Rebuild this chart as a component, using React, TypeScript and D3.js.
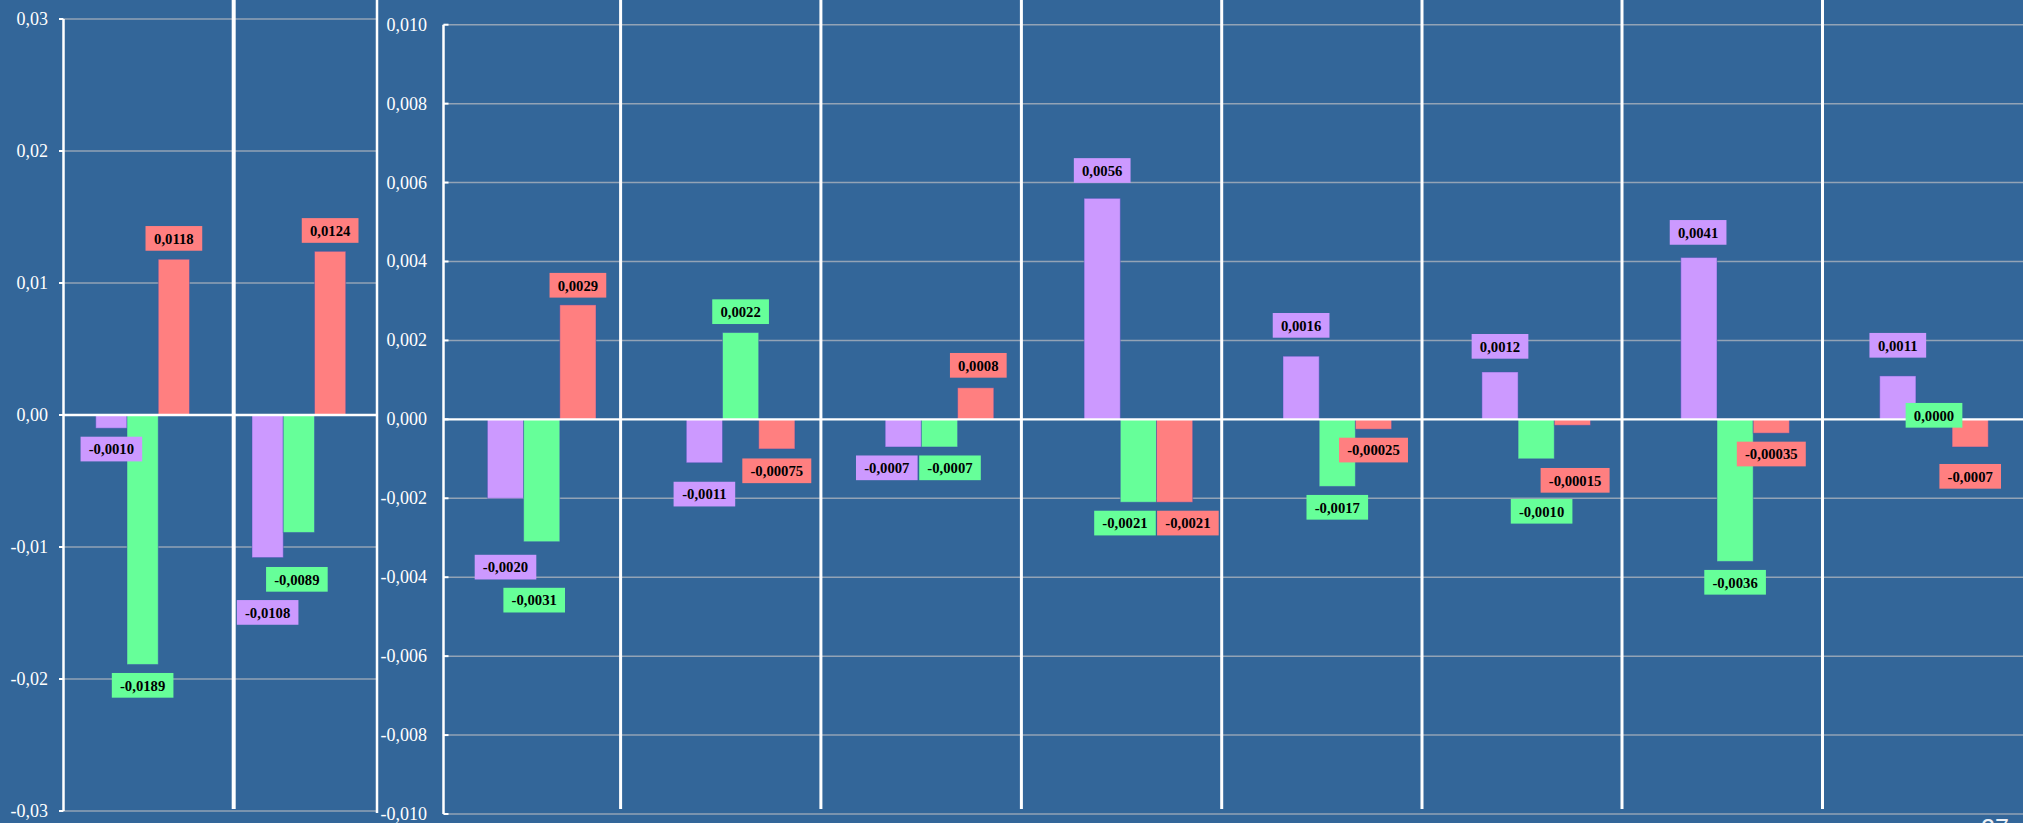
import React from "react";
import * as d3 from "d3";

// ---------- data ----------
const seriesNames = ["purple", "green", "red"];
const leftCategories = ["G1", "G2"];
const leftPurple = [-0.001, -0.0108];
const leftGreen = [-0.0189, -0.0089];
const leftRed = [0.0118, 0.0124];

const rightCategories = ["C1", "C2", "C3", "C4", "C5", "C6", "C7", "C8"];
const rightPurple = [-0.002, -0.0011, -0.0007, 0.0056, 0.0016, 0.0012, 0.0041, 0.0011];
const rightGreen = [-0.0031, 0.0022, -0.0007, -0.0021, -0.0017, -0.001, -0.0036, 0.0];
const rightRed = [0.0029, -0.00075, 0.0008, -0.0021, -0.00025, -0.00015, -0.00035, -0.0007];

const leftTicks = [0.03, 0.02, 0.01, 0, -0.01, -0.02, -0.03];
const rightTicks = [0.01, 0.008, 0.006, 0.004, 0.002, 0, -0.002, -0.004, -0.006, -0.008, -0.01];

// label nudges (pixels) to avoid overlaps, as in the reference
const leftLabelShift: Record<string, number[][]> = {
  purple: [[0, 0], [0, 34]],
  green: [[0, 0], [-2, 26]],
  red: [[0, 0], [0, 0]],
};
const rightLabelShift: Record<string, number[][]> = {
  purple: [[0, 48], [0, 10.5], [-16.5, 0], [0, -7], [0, -10], [0, -4.8], [-0.8, -4.3], [0, -9.8]],
  green: [[-7.5, 37.6], [0, 0], [10.5, 0], [-13.4, 0], [0, 0], [5.4, 31.6], [0, 0], [0, 16.8]],
  red: [[0, 1.2], [0, 1], [2.6, -1.6], [13.3, 0], [0, 0], [2.7, 34.2], [0, 0], [0, 8.5]],
};

// ---------- style ----------
const W = 2023;
const H = 823;
const BG = "#336699";
const GRID = "#93a3b6";
const colors: Record<string, string> = { purple: "#cc99ff", green: "#66ff99", red: "#ff7f80" };
const SERIF = "'Liberation Serif', 'Times New Roman', serif";
const LABEL_FS = 14.7;
const LABEL_H = 24.7;
const LABEL_GAP = 8.5;
const rightDividers = [620.6, 820.9, 1021.4, 1221.7, 1422.0, 1622.0, 1822.5];

function fmtValue(v: number): string {
  const r4 = Math.round(Math.abs(v) * 10000);
  const exact4 = Math.abs(r4 - Math.abs(v) * 10000) < 1e-6;
  const s = Math.abs(v).toFixed(exact4 ? 4 : 5).replace(".", ",");
  return (v < 0 ? "-" : "") + s;
}
function fmtTick(v: number, dec: number): string {
  const s = Math.abs(v).toFixed(dec).replace(".", ",");
  return (v < -1e-12 ? "-" : "") + s;
}
function textWidth(s: string): number {
  let w = 0;
  for (const c of s) {
    if (c === ",") w += 0.25;
    else if (c === "-") w += 0.333;
    else w += 0.5;
  }
  return w * LABEL_FS;
}

type Panel = {
  cats: string[];
  values: Record<string, number[]>;
  shifts: Record<string, number[][]>;
  y: d3.ScaleLinear<number, number>;
  x0: d3.ScaleBand<string>;
  groupFrac: number;
};

function Marks({ p, mode }: { p: Panel; mode: "bars" | "labels" }) {
  const bw = p.x0.bandwidth();
  const gw = bw * p.groupFrac;
  const x1 = d3.scaleBand<string>().domain(seriesNames).range([0, gw]).padding(0);
  const out: React.ReactNode[] = [];
  p.cats.forEach((c, i) => {
    const gx = (p.x0(c) as number) + (bw - gw) / 2;
    seriesNames.forEach((s) => {
      const v = p.values[s][i];
      const bx = gx + (x1(s) as number);
      const w = x1.bandwidth();
      if (mode === "bars") {
        const yTop = p.y(Math.max(0, v));
        const yBot = p.y(Math.min(0, v));
        out.push(
          <rect key={`b-${c}-${s}`} x={bx} y={yTop} width={w} height={Math.max(0, yBot - yTop)}
            fill={colors[s]} stroke="rgba(60,80,170,0.45)" strokeWidth={1} />
        );
      } else {
        const [dx, dy] = p.shifts[s][i];
        const txt = fmtValue(v);
        const boxW = textWidth(txt) + 16.3;
        const cx = bx + w / 2 + dx;
        const top = v >= 0 ? p.y(v) - LABEL_GAP - LABEL_H + dy : p.y(v) + LABEL_GAP + dy;
        out.push(
          <g key={`l-${c}-${s}`}>
            <rect x={cx - boxW / 2} y={top} width={boxW} height={LABEL_H} fill={colors[s]} />
            <text x={cx} y={top + LABEL_H / 2 + 5.3} textAnchor="middle" fontFamily={SERIF}
              fontWeight="bold" fontSize={LABEL_FS} fill="#000">{txt}</text>
          </g>
        );
      }
    });
  });
  return <g>{out}</g>;
}

export default function App() {
  // left panel
  const yL = d3.scaleLinear().domain([-0.03, 0.03]).range([811, 19]);
  const x0L = d3.scaleBand<string>().domain(leftCategories).range([64.5, 377]).padding(0);
  const left: Panel = {
    cats: leftCategories,
    values: { purple: leftPurple, green: leftGreen, red: leftRed },
    shifts: leftLabelShift,
    y: yL,
    x0: x0L,
    groupFrac: 0.6,
  };
  // right panel
  const yR = d3.scaleLinear().domain([-0.01, 0.01]).range([814, 24.7]);
  const x0R = d3.scaleBand<string>().domain(rightCategories).range([442.25, 442.25 + 8 * 198.9]).padding(0);
  const right: Panel = {
    cats: rightCategories,
    values: { purple: rightPurple, green: rightGreen, red: rightRed },
    shifts: rightLabelShift,
    y: yR,
    x0: x0R,
    groupFrac: 0.546,
  };

  const axL = 63.5;
  const axR = 443.5;

  return (
    <svg width={W} height={H} viewBox={`0 0 ${W} ${H}`}
      style={{ position: "absolute", left: 0, top: 0, display: "block" }}>
      <rect x={0} y={0} width={W} height={H} fill={BG} />

      {/* left gridlines */}
      {leftTicks.filter((t) => t !== 0).map((t) => (
        <line key={`gl${t}`} x1={axL} x2={377} y1={yL(t)} y2={yL(t)} stroke={GRID} strokeWidth={1.5} />
      ))}
      {/* right gridlines */}
      {rightTicks.filter((t) => t !== 0).map((t) => (
        <line key={`gr${t}`} x1={axR} x2={W} y1={yR(t)} y2={yR(t)} stroke={GRID} strokeWidth={1.5} />
      ))}

      {/* dividers */}
      <line x1={233.7} x2={233.7} y1={0} y2={809} stroke="#fff" strokeWidth={4} />
      {rightDividers.map((x) => (
        <line key={`d${x}`} x1={x} x2={x} y1={0} y2={809} stroke="#fff" strokeWidth={3} />
      ))}
      <line x1={377} x2={377} y1={0} y2={813} stroke="#fff" strokeWidth={2.5} />

      <Marks p={left} mode="bars" />
      <Marks p={right} mode="bars" />

      {/* zero lines */}
      <line x1={axL} x2={377} y1={yL(0)} y2={yL(0)} stroke="#fff" strokeWidth={2.5} />
      <line x1={axR} x2={W} y1={yR(0)} y2={yR(0)} stroke="#fff" strokeWidth={2.2} />

      <Marks p={left} mode="labels" />
      <Marks p={right} mode="labels" />

      {/* left axis */}
      <line x1={axL} x2={axL} y1={yL(0.03)} y2={yL(-0.03)} stroke="#fff" strokeWidth={2.5} />
      {leftTicks.map((t) => (
        <g key={`tl${t}`}>
          <line x1={59} x2={axL} y1={yL(t)} y2={yL(t)} stroke="#fff" strokeWidth={2} />
          <text x={48} y={yL(t) + 6} textAnchor="end" fontFamily={SERIF} fontSize={18} fill="#fff">
            {fmtTick(t, 2)}
          </text>
        </g>
      ))}

      {/* right axis */}
      <line x1={axR} x2={axR} y1={yR(0.01)} y2={yR(-0.01)} stroke="#fff" strokeWidth={2.5} />
      {rightTicks.map((t) => (
        <g key={`tr${t}`}>
          <line x1={axR} x2={448.5} y1={yR(t)} y2={yR(t)} stroke="#fff" strokeWidth={2} />
          <text x={427} y={yR(t) + 6} textAnchor="end" fontFamily={SERIF} fontSize={18} fill="#fff">
            {fmtTick(t, 3)}
          </text>
        </g>
      ))}

      {/* slide number, cropped at the bottom edge as in the reference */}
      <text x={1981} y={837} fontFamily="'Liberation Sans', Arial, sans-serif" fontSize={25} fill="#eef2f7">27</text>
    </svg>
  );
}
